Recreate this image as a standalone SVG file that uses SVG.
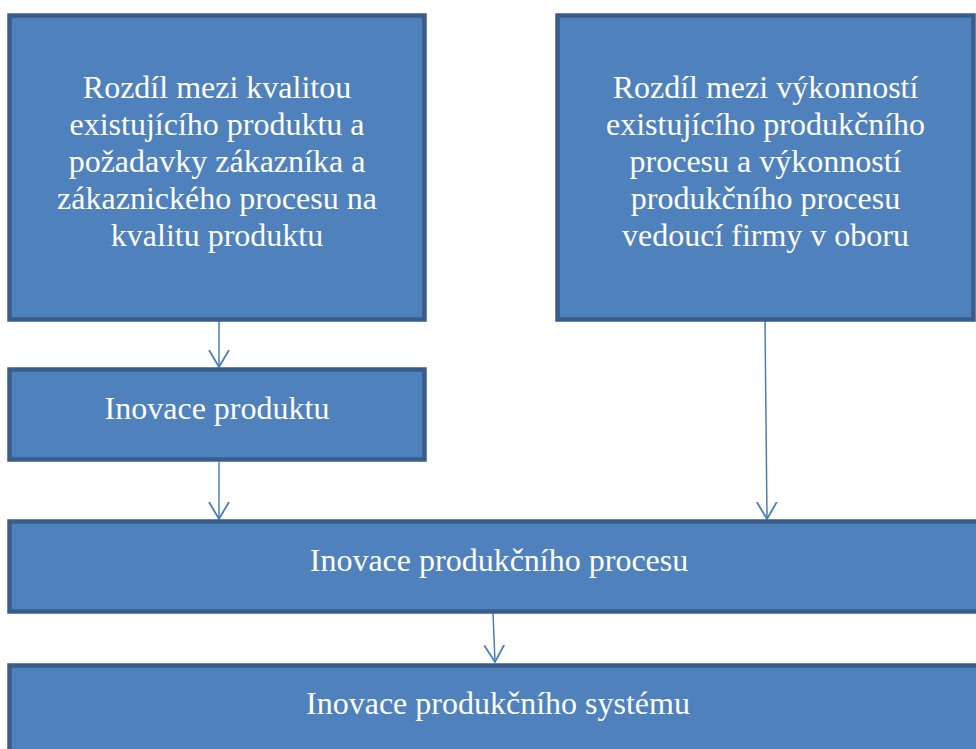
<svg xmlns="http://www.w3.org/2000/svg" width="976" height="749" viewBox="0 0 976 749">
<style>
.box{fill:#4F81BD;stroke:#385D8A;stroke-width:4.5}
.t{font-family:"Liberation Serif","Times New Roman",serif;font-size:32px;fill:#FFFFFF;text-anchor:middle}
.c{stroke:#4A7EBB;stroke-width:1.5;fill:none;marker-end:url(#ah)}
</style>
<defs>
<marker id="ah" markerWidth="20" markerHeight="24" refX="17" refY="12" orient="auto" markerUnits="userSpaceOnUse" viewBox="0 0 20 24">
<path d="M0,2 L17,12 L0,22" fill="none" stroke="#4A7EBB" stroke-width="1.8"/>
</marker>
</defs>
<g id="connectors">
<line class="c" x1="219" y1="321" x2="219" y2="367"/>
<line class="c" x1="219" y1="462" x2="219" y2="519"/>
<line class="c" x1="765" y1="321" x2="767" y2="519"/>
<line class="c" x1="493" y1="613" x2="495" y2="662"/>
</g>
<g id="node1">
<rect class="box" x="9.5" y="15.5" width="415" height="304"/>
<text class="t" x="217" y="98">Rozdíl mezi kvalitou</text>
<text class="t" x="217" y="135">existujícího produktu a</text>
<text class="t" x="217" y="172">požadavky zákazníka a</text>
<text class="t" x="217" y="209">zákaznického procesu na</text>
<text class="t" x="217" y="246">kvalitu produktu</text>
</g>
<g id="node2">
<rect class="box" x="557.5" y="15.5" width="416" height="304"/>
<text class="t" x="765.5" y="98">Rozdíl mezi výkonností</text>
<text class="t" x="765.5" y="135">existujícího produkčního</text>
<text class="t" x="765.5" y="172">procesu a výkonností</text>
<text class="t" x="765.5" y="209">produkčního procesu</text>
<text class="t" x="765.5" y="246">vedoucí firmy v oboru</text>
</g>
<g id="node3">
<rect class="box" x="9.5" y="369.5" width="415" height="90"/>
<text class="t" x="217" y="419">Inovace produktu</text>
</g>
<g id="node4">
<rect class="box" x="9.5" y="521.5" width="985" height="90"/>
<text class="t" x="499" y="571">Inovace produkčního procesu</text>
</g>
<g id="node5">
<rect class="box" x="9.5" y="665.5" width="985" height="100"/>
<text class="t" x="498" y="714">Inovace produkčního systému</text>
</g>
</svg>
